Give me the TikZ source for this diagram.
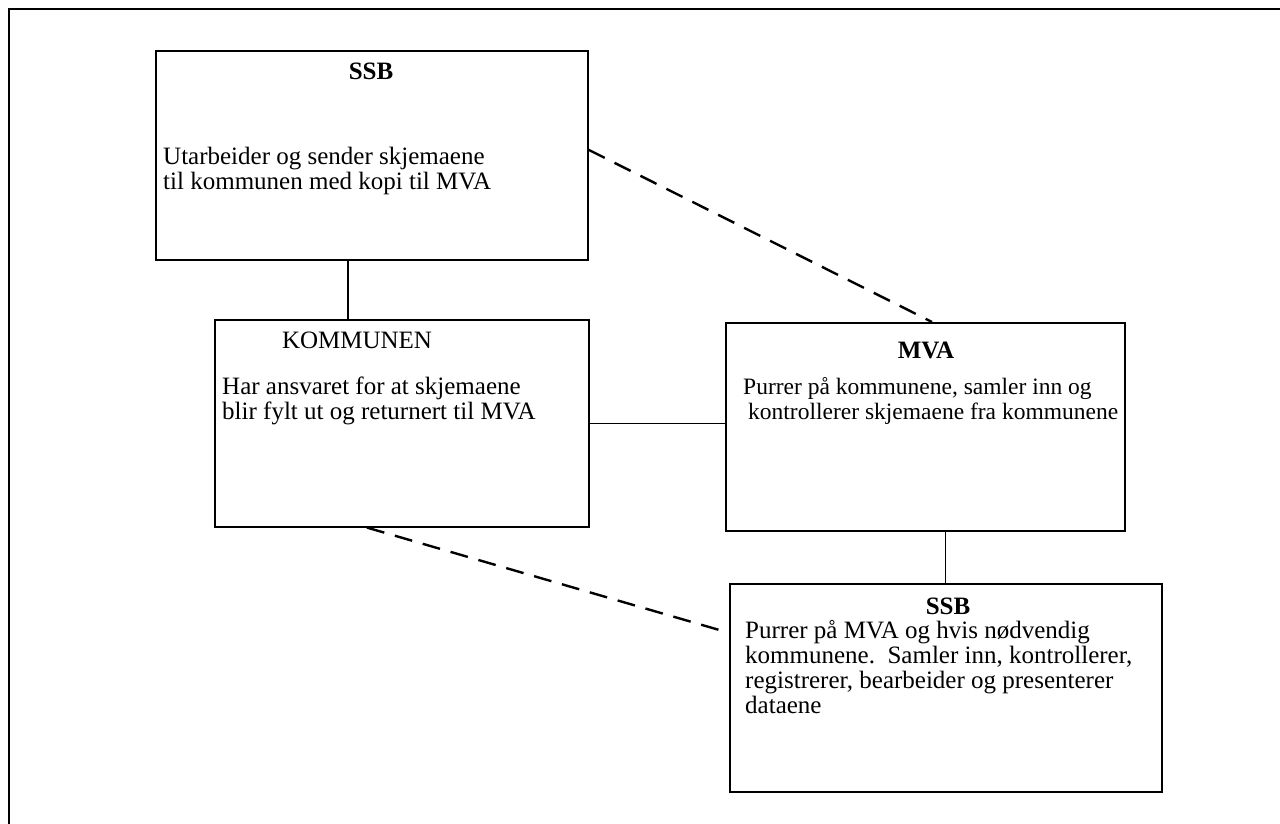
\documentclass[tikz,border=0pt]{standalone}
\usepackage{fontspec}
\setmainfont{Liberation Serif}
\usetikzlibrary{calc}
\tikzset{
  box/.style={draw, line width=1.6pt, inner sep=0pt, anchor=north west},
  ttl/.style={inner sep=0pt, anchor=center, font=\fontsize{25}{25}\selectfont},
  bttl/.style={ttl, font=\fontsize{25}{25}\selectfont\bfseries},
  body/.style={inner sep=0pt, anchor=north west, align=left, font=\fontsize{25}{25}\selectfont},
  link/.style={line width=1.3pt},
  dlink/.style={line width=2.4pt, dash pattern=on 18pt off 11pt}
}
\begin{document}
\begin{tikzpicture}[x=1pt,y=-1pt]
\useasboundingbox (0,0) rectangle (1280,824);
\draw[line width=2.8pt] (9,824) -- (9,9) -- (1280,9);
% boxes
\node[box, minimum width=432pt, minimum height=209pt] (ssbA) at (155,50) {};
\node[box, minimum width=374pt, minimum height=207pt] (komm) at (214,319) {};
\node[box, minimum width=399pt, minimum height=208pt] (mva) at (725,322) {};
\node[box, minimum width=432pt, minimum height=208pt] (ssbB) at (729,583) {};
% texts
\node[bttl] (tA) at (371,71) {SSB};
\node[body] (bA) at (163,146.5) {Utarbeider og sender skjemaene\\til kommunen med kopi til MVA};
\node[ttl] (tK) at (357,340) {KOMMUNEN};
\node[body] (bK) at (222,376.5) {Har ansvaret for at skjemaene\\blir fylt ut og returnert til MVA};
\node[bttl] (tM) at (926,350) {MVA};
\node[body, font=\fontsize{23.5}{24.5}\selectfont] (bM) at (743,377.5) {Purrer på kommunene, samler inn og\\\hspace{5pt}kontrollerer skjemaene fra kommunene};
\node[bttl] (tB) at (948,606) {SSB};
\node[body] (bB) at (745,620) {Purrer på MVA og hvis nødvendig\\kommunene.\ \ Samler inn, kontrollerer,\\registrerer, bearbeider og presenterer\\dataene};
% connectors
\draw[link] ([xshift=193pt]ssbA.south west) -- ([xshift=134pt]komm.north west);
\draw[link] (komm.east) -- (komm.east -| mva.west);
\draw[link] (ssbB.north |- mva.south) -- (ssbB.north);
\draw[dlink] ([yshift=5.5pt]ssbA.east) -- ([xshift=207pt]mva.north west);
\draw[dlink] ([xshift=153pt]komm.south west) -- ([yshift=55pt]ssbB.west);
\end{tikzpicture}
\end{document}
